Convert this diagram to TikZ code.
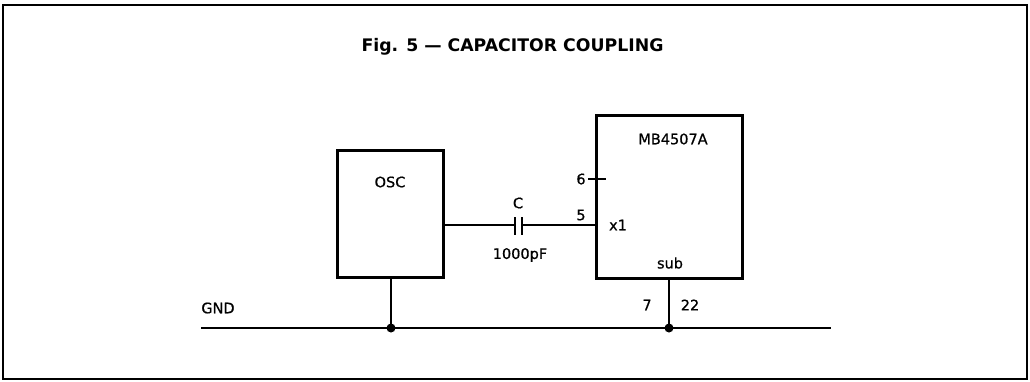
\documentclass[tikz,border=0pt]{standalone}
\usepackage{fontspec}
\setmainfont{DejaVu Sans}
\newfontfamily\lblfont[FakeBold=0.7]{DejaVu Sans}
\begin{document}
\begin{tikzpicture}[x=1pt,y=-1pt,
  lbl/.style={font=\lblfont\fontsize{14.5}{16}\selectfont, inner sep=0pt},
  blk/.style={draw, line width=3pt},
  wire/.style={line width=1.4pt},
  dot/.style={circle, fill, inner sep=0pt, minimum size=9pt}]
\useasboundingbox (0,0) rectangle (1030,381);
\draw[line width=1.8pt] (3,5) rectangle (1027,379);
\node[font=\bfseries\fontsize{17.3}{19}\selectfont, inner sep=0pt] (title) at (512.5,47) {Fig. 5 — CAPACITOR COUPLING};
% blocks
\draw[blk] (337,150) rectangle (443,277);
\coordinate (oscR) at (443,225);
\coordinate (oscB) at (391,277);
\node[lbl] (osc) at (390,182) {OSC};
\draw[blk] (596,115) rectangle (742,278);
\coordinate (mbL) at (596,225);
\coordinate (mbB) at (669,278);
\node[lbl] (mb) at (673,139) {MB4507A};
\node[lbl] (x1) at (618,225) {x1};
\node[lbl] (sub) at (670,263) {sub};
\node[lbl] (n6) at (581,179) {6};
\node[lbl] (n5) at (581,215) {5};
\node[lbl] (n7) at (647,305) {7};
\node[lbl] (n22) at (690,305) {22};
% capacitor
\coordinate (c1) at (515,225);
\coordinate (c2) at (522,225);
\draw[wire] (oscR) -- (c1);
\draw[wire] (c2) -- (mbL);
\draw[line width=2.4pt] (515,217) -- (515,235);
\draw[line width=2.4pt] (522,217) -- (522,235);
\node[lbl] (C) at (518,203) {C};
\node[lbl] (cv) at (520,255) {1000pF};
% pin 6 tick
\coordinate (t6a) at (588,179);
\coordinate (t6b) at (606,179);
\draw[wire] (t6a) -- (t6b);
% GND
\coordinate (gL) at (201,328);
\coordinate (gR) at (831,328);
\node[lbl] (gnd) at (218,308) {GND};
\draw[wire] (gL) -- (gR);
\node[dot] (d1) at (391,328) {};
\node[dot] (d2) at (669,328) {};
\draw[wire] (oscB) -- (d1.center);
\draw[wire] (mbB) -- (d2.center);
\end{tikzpicture}
\end{document}
